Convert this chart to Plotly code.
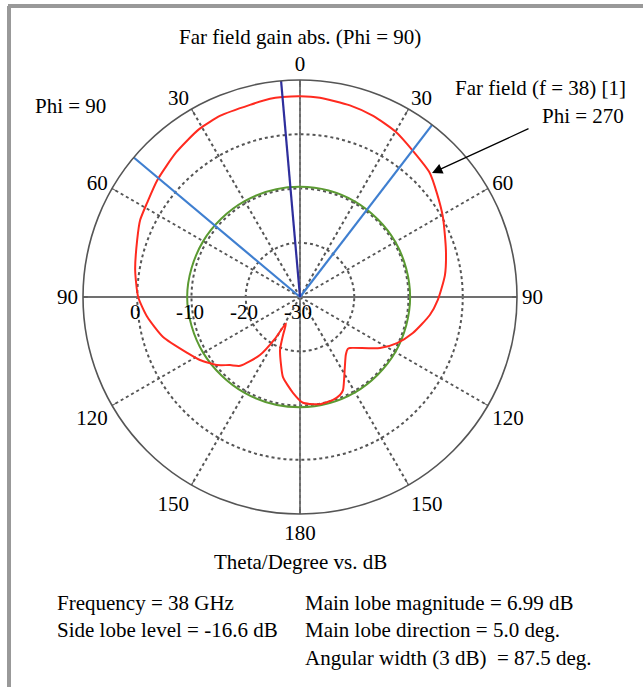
import plotly.graph_objects as go

# ---- data ----
theta_red = [0, 5.7, 14.6, 22, 30, 38.2, 46.3, 52.8, 60.8, 72.2, 81.4, 91.2, 97.9,
             107.7, 115.4, 122.5, 135.6, 137.3, 141.6, 147.3, 155.2, 157.8, 162.2,
             169.4, 174.7, 178.4, 184.2, 192, 195.6, 200.7, 204, 208, 211, 214.6,
             221, 225.8, 230.7, 237.8, 243.6, 253.7, 262.6, 270, 279.3, 289.3,
             295.7, 301.6, 309.3, 319.5, 329, 336.3, 345.4, 351.4, 355, 360]
gain_red = [7.0, 6.9, 6.5, 6.0, 5.2, 3.96, 3.09, 1.68, 0.18, -1.75, -2.98, -4.59, -5.84,
            -8.16, -10.2, -12.5, -16.85, -17.0, -16.4, -14.7, -11.1, -10.5, -10.1,
            -9.9, -10.2, -10.5, -12.3, -14.9, -17.0, -19.6, -22.3, -24.5, -21.0, -17.0,
            -13.2, -12.0, -10.2, -8.2, -6.8, -3.7, -1.6, -0.17, 0.79, 1.8,
            2.7, 3.1, 4.0, 5.1, 6.1, 6.5, 6.6, 6.95, 6.99, 7.0]

theta_green = [0, 30, 60, 90, 120, 150, 180, 210, 240, 270, 300, 330, 360]
gain_green = [-9.7, -9.7, -9.7, -9.7, -9.7, -9.7, -9.7, -9.6, -9.4, -9.2, -9.4, -9.6, -9.7]

main_dir = 355            # main lobe direction (5 deg on Phi = 90 side)
beam_edges = [310, 37.5]  # 3 dB beam-width lines

r_min, r_max = -30, 10
radial_ticks = [-30, -20, -10, 0]
angle_ticks = [0, 30, 60, 90, 120, 150, 180, 210, 240, 270, 300, 330]
angle_labels = ["0", "30", "60", "90", "120", "150", "180", "150", "120", "90", "60", "30"]

FONT = "Liberation Serif"
FS = 21
W, H = 643, 687
GRID = "#555555"

fig = go.Figure()

# solid cross lines through the centre
for t in (0, 90):
    fig.add_trace(go.Scatterpolar(r=[r_max, r_min, r_max], theta=[t, t, t + 180],
                                  mode="lines", line=dict(color="#707070", width=1.8),
                                  hoverinfo="skip", showlegend=False))

fig.add_trace(go.Scatterpolar(r=gain_green, theta=theta_green, mode="lines",
                              line=dict(color="#5b9a32", width=2, shape="spline"),
                              showlegend=False))
fig.add_trace(go.Scatterpolar(r=gain_red, theta=theta_red, mode="lines",
                              line=dict(color="#ff2a1f", width=2, shape="spline", smoothing=0.6),
                              showlegend=False))
for t in beam_edges:
    fig.add_trace(go.Scatterpolar(r=[r_min, r_max], theta=[t, t], mode="lines",
                                  line=dict(color="#3f7fd0", width=2.2), showlegend=False))
fig.add_trace(go.Scatterpolar(r=[r_min, r_max], theta=[main_dir, main_dir], mode="lines",
                              line=dict(color="#2e2e9c", width=2.2), showlegend=False))

cx, cy, R = 300, 297, 217
fig.update_layout(
    width=W, height=H,
    margin=dict(l=0, r=0, t=0, b=0),
    paper_bgcolor="white",
    font=dict(family=FONT, size=FS, color="black"),
    polar=dict(
        domain=dict(x=[(cx - R) / W, (cx + R) / W], y=[1 - (cy + R) / H, 1 - (cy - R) / H]),
        bgcolor="white",
        angularaxis=dict(rotation=90, direction="clockwise", tickmode="array",
                         tickvals=angle_ticks, ticktext=angle_labels,
                         showline=True, linecolor="#555555", linewidth=1.6,
                         gridcolor=GRID, griddash="3px,3px", gridwidth=1.5,
                         ticks="inside", ticklen=4, tickcolor="#555555",
                         tickfont=dict(family=FONT, size=FS)),
        radialaxis=dict(range=[r_min, r_max], tickmode="array", tickvals=radial_ticks,
                        angle=180, showticklabels=False, showline=False, ticks="",
                        gridcolor=GRID, griddash="3px,3px", gridwidth=1.5),
    ),
    shapes=[
        dict(type="line", xref="paper", yref="paper", x0=8 / W, x1=1, y0=1 - 6 / H, y1=1 - 6 / H,
             line=dict(color="#999999", width=4)),
        dict(type="line", xref="paper", yref="paper", x0=9 / W, x1=9 / W, y0=0, y1=1 - 6 / H,
             line=dict(color="#999999", width=4)),
    ],
)

def txt(x, y, s, anchor="center"):
    fig.add_annotation(x=x / W, y=1 - y / H, xref="paper", yref="paper", text=s,
                       showarrow=False, xanchor=anchor, yanchor="middle",
                       font=dict(family=FONT, size=FS, color="black"))

# radial tick labels placed below the leftward radial axis, from the axis scale
for v in radial_ticks:
    px = cx - (v - r_min) / (r_max - r_min) * R
    txt(px - 2, 312, str(v))

txt(300, 37, "Far field gain abs. (Phi = 90)")
txt(70, 106, "Phi = 90")
txt(628, 88, "Far field (f = 38) [1]", "right")
txt(626, 116, "Phi = 270", "right")
txt(300, 562, "Theta/Degree vs. dB")
txt(55, 603, "Frequency = 38 GHz", "left")
txt(55, 630, "Side lobe level = -16.6 dB", "left")
txt(303, 603, "Main lobe magnitude = 6.99 dB", "left")
txt(303, 630, "Main lobe direction = 5.0 deg.", "left")
txt(303, 658, "Angular width (3 dB)  = 87.5 deg.", "left")

fig.add_annotation(x=432 / W, y=1 - 173 / H, xref="paper", yref="paper",
                   ax=98, ay=-45, axref="pixel", ayref="pixel", text="",
                   showarrow=True, arrowhead=2, arrowsize=1.6, arrowwidth=1.3,
                   arrowcolor="black", standoff=0)

fig.write_html("out.html", config={"displayModeBar": False},
               post_script="document.body.style.margin='0';")
